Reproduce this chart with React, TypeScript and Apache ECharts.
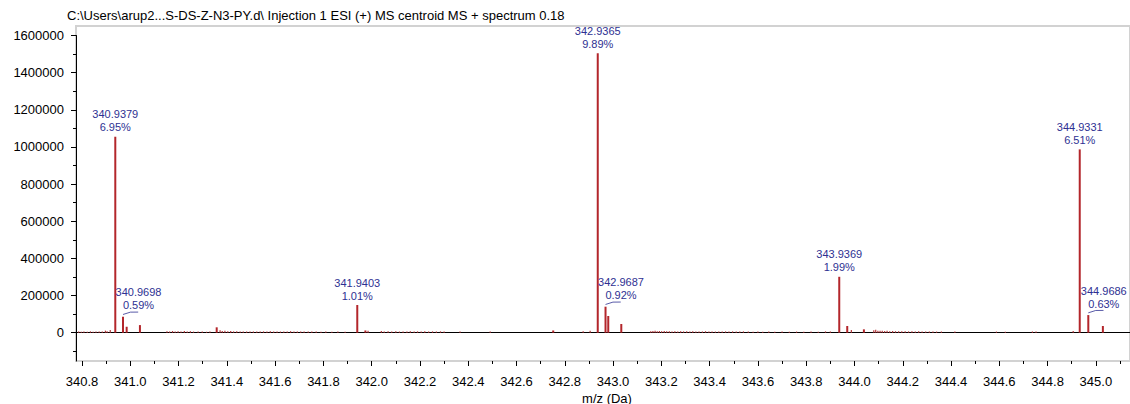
import React, { useEffect, useRef } from "react";
import * as echarts from "echarts";

// ---------- text ----------
const titleText =
  "C:\\Users\\arup2...S-DS-Z-N3-PY.d\\ Injection 1 ESI (+) MS centroid MS + spectrum 0.18";
const xAxisTitle = "m/z (Da)";

// ---------- axis ticks ----------
const xTickMin = 340.8;
const xTickMax = 345.0;
const xTickStep = 0.2;
const xMinorMax = 345.1;
const xMinorStep = 0.1;
const yTickMin = 0;
const yTickMax = 1600000;
const yTickStep = 200000;
const yMinorMin = -100000;
const yMinorStep = 100000;

// ---------- labelled peaks ----------
const labeledMz = [340.9379, 340.9698, 341.9403, 342.9365, 342.9687, 343.9369, 344.9331, 344.9686];
const labeledIntensity = [1055000, 86000, 149000, 1504000, 140000, 301000, 987000, 95000];
const labeledPercent = ["6.95%", "0.59%", "1.01%", "9.89%", "0.92%", "1.99%", "6.51%", "0.63%"];
const labelBesidePeak = [false, true, false, false, true, false, false, true];

// ---------- unlabelled isotope / satellite peaks ----------
const satelliteMz = [340.985, 341.04, 341.358, 341.974, 342.752, 342.98, 343.034, 343.97, 344.039, 345.029];
const satelliteIntensity = [32000, 41000, 29000, 12000, 12000, 90000, 47000, 36000, 18000, 36000];

// ---------- baseline noise ----------
const noiseMz = [
  340.786, 340.797, 340.808, 340.822, 340.835, 340.846, 340.858, 340.871, 340.884, 340.897, 340.904, 340.917,
  341.152, 341.163, 341.175, 341.186, 341.198, 341.21, 341.224, 341.236, 341.249, 341.262, 341.281, 341.298,
  341.316, 341.33, 341.372, 341.381, 341.392, 341.404, 341.416, 341.428, 341.441, 341.455, 341.468, 341.482,
  341.496, 341.51, 341.524, 341.538, 341.552, 341.566, 341.58, 341.594, 341.608, 341.622, 341.636, 341.65,
  341.664, 341.678, 341.692, 341.706, 341.72, 341.737, 341.752, 341.77, 341.79, 341.81, 341.835, 341.86,
  341.89, 341.985, 342.04, 342.052, 342.068, 342.083, 342.1, 342.115, 342.13, 342.146, 342.16, 342.176,
  342.19, 342.205, 342.22, 342.236, 342.252, 342.268, 342.285, 342.3, 342.366, 342.491, 342.876, 342.905,
  343.156, 343.165, 343.174, 343.183, 343.192, 343.201, 343.212, 343.222, 343.233, 343.244, 343.256, 343.268,
  343.28, 343.292, 343.305, 343.318, 343.33, 343.343, 343.356, 343.37, 343.383, 343.397, 343.41, 343.424,
  343.438, 343.452, 343.466, 343.48, 343.495, 343.51, 343.525, 343.54, 343.56, 343.58, 343.6, 343.62,
  343.645, 343.67, 343.7, 343.73, 343.76, 343.79, 343.82, 343.85, 343.88, 343.9, 343.987, 344.08,
  344.088, 344.097, 344.106, 344.115, 344.125, 344.135, 344.146, 344.158, 344.17, 344.183, 344.196, 344.21,
  344.224, 344.238, 344.252, 344.266, 344.28, 344.295, 344.31, 344.325, 344.34, 344.36, 344.416, 344.588,
  344.625, 344.737, 344.752, 344.906,
];
const noiseIntensity = [
  6000, 5000, 6000, 5000, 7000, 5000, 6000, 7000, 6000, 11000, 8000, 14000,
  8000, 6000, 9000, 7000, 8000, 6000, 9000, 6000, 8000, 6000, 7000, 6000,
  5000, 6000, 13000, 9000, 10000, 8000, 9000, 7000, 8000, 6000, 7000, 6000,
  7000, 6000, 7000, 6000, 7000, 6000, 8000, 6000, 7000, 6000, 7000, 6000,
  8000, 6000, 7000, 6000, 6000, 7000, 6000, 6000, 5000, 6000, 5000, 6000,
  5000, 11000, 9000, 7000, 8000, 6000, 8000, 6000, 7000, 6000, 8000, 6000,
  7000, 6000, 8000, 6000, 7000, 6000, 7000, 6000, 6000, 6000, 8000, 11000,
  8000, 9000, 10000, 8000, 9000, 8000, 9000, 8000, 8000, 7000, 8000, 7000,
  8000, 7000, 8000, 7000, 8000, 6000, 7000, 6000, 8000, 6000, 7000, 6000,
  7000, 6000, 7000, 6000, 7000, 6000, 6000, 7000, 6000, 5000, 6000, 5000,
  6000, 5000, 6000, 5000, 6000, 5000, 6000, 5000, 7000, 6000, 14000, 13000,
  16000, 11000, 10000, 11000, 9000, 10000, 8000, 9000, 8000, 8000, 8000, 8000,
  7000, 8000, 7000, 8000, 7000, 7000, 6000, 7000, 6000, 6000, 6000, 6000,
  5000, 6000, 6000, 9000,
];

// ---------- layout (pixels) ----------
const W = 1130;
const H = 404;
const FRAME_LEFT = 76;
const FRAME_TOP = 26;
const FRAME_BOTTOM = 361;
const X_TICK0_PX = 82; // pixel of xTickMin
const PX_PER_MZ = 241.4;
const Y_ZERO_PX = 332.7;
const Y_TOP_TICK_PX = 35.5;

const FONT = "'Liberation Sans', Arial, sans-serif";
const RED = "#b3262b";
const NOISE_RED = "#b3363a";
const BLUE = "#2e3192";

export default function App() {
  const ref = useRef<HTMLDivElement>(null);

  useEffect(() => {
    if (!ref.current) return;
    const chart = echarts.init(ref.current, undefined, { renderer: "svg" });

    const pxPerInt = (Y_ZERO_PX - Y_TOP_TICK_PX) / (yTickMax - yTickMin);
    const xMin = xTickMin - (X_TICK0_PX - FRAME_LEFT) / PX_PER_MZ;
    const xMax = xTickMin + (W - X_TICK0_PX) / PX_PER_MZ;
    const yMax = yTickMax + (Y_TOP_TICK_PX - FRAME_TOP) / pxPerInt;
    const yMin = -(FRAME_BOTTOM - Y_ZERO_PX) / pxPerInt;

    const frameH = FRAME_BOTTOM - FRAME_TOP;
    const majorYH = Y_ZERO_PX - Y_TOP_TICK_PX;
    const minorYH = majorYH * (yTickMax - yMinorMin) / (yTickMax - yTickMin);

    const peakData = labeledMz.map((mz, i) => ({
      value: [mz, labeledIntensity[i]],
      label: {
        show: true,
        formatter: mz.toFixed(4) + "\n" + labeledPercent[i],
        offset: labelBesidePeak[i] ? [15.5, -2] : [0, 0],
      },
    }));
    const satData = satelliteMz.map((mz, i) => [mz, satelliteIntensity[i]]);
    const noiseData = noiseMz.map((mz, i) => [mz, noiseIntensity[i]]);
    const leaderData = labeledMz
      .map((mz, i) => ({ mz, i }))
      .filter((d) => labelBesidePeak[d.i])
      .map((d) => ({
        coords: [
          [d.mz, labeledIntensity[d.i] + 12000],
          [d.mz + 0.063, labeledIntensity[d.i] + 25000],
        ],
      }));

    const hiddenX = (g: number) => ({ gridIndex: g, type: "value", show: false, min: 0, max: 1 });
    const hiddenY = (g: number) => ({ gridIndex: g, type: "value", show: false, min: 0, max: 1 });
    const black = { color: "#000", width: 1 };

    chart.setOption({
      animation: false,
      backgroundColor: "#ffffff",
      title: {
        text: titleText,
        left: 67,
        top: 9,
        padding: 0,
        textStyle: { fontFamily: FONT, fontSize: 13, fontWeight: "normal", color: "#000" },
      },
      graphic: [
        {
          type: "text",
          x: 607,
          y: 398,
          style: {
            text: xAxisTitle,
            font: "13px " + FONT,
            fill: "#000",
            align: "center",
            verticalAlign: "middle",
          },
        },
      ],
      grid: [
        {
          left: FRAME_LEFT,
          top: FRAME_TOP,
          width: W - FRAME_LEFT,
          height: frameH,
          show: true,
          borderColor: "#d2d2d2",
          borderWidth: 2,
          backgroundColor: "#ffffff",
        },
        { left: X_TICK0_PX, top: FRAME_TOP, width: (xTickMax - xTickMin) * PX_PER_MZ, height: frameH },
        { left: X_TICK0_PX, top: FRAME_TOP, width: (xMinorMax - xTickMin) * PX_PER_MZ, height: frameH },
        { left: FRAME_LEFT, top: Y_TOP_TICK_PX, width: 100, height: majorYH },
        { left: FRAME_LEFT, top: Y_TOP_TICK_PX, width: 100, height: minorYH },
        { left: FRAME_LEFT, top: Y_TOP_TICK_PX, width: 100, height: FRAME_BOTTOM - Y_TOP_TICK_PX },
      ],
      xAxis: [
        {
          gridIndex: 0,
          type: "value",
          min: xMin,
          max: xMax,
          position: "bottom",
          offset: 6,
          axisLine: { show: true, lineStyle: black },
          axisTick: { show: false },
          axisLabel: { show: false },
          splitLine: { show: false },
        },
        { gridIndex: 0, type: "value", min: xMin, max: xMax, position: "top", show: false },
        {
          gridIndex: 1,
          type: "value",
          min: xTickMin,
          max: xTickMax,
          interval: xTickStep,
          position: "bottom",
          offset: 6,
          axisLine: { show: false },
          axisTick: { show: true, length: 5, lineStyle: black },
          axisLabel: {
            show: true,
            margin: 8,
            fontSize: 13,
            fontFamily: FONT,
            color: "#000",
            formatter: (v: number) => v.toFixed(1),
          },
          splitLine: { show: false },
        },
        {
          gridIndex: 2,
          type: "value",
          min: xTickMin,
          max: xMinorMax,
          interval: xMinorStep,
          position: "bottom",
          offset: 6,
          axisLine: { show: false },
          axisTick: { show: true, length: 3, lineStyle: black },
          axisLabel: { show: false },
          splitLine: { show: false },
        },
        hiddenX(3),
        hiddenX(4),
        hiddenX(5),
      ],
      yAxis: [
        { gridIndex: 0, type: "value", min: yMin, max: yMax, show: false },
        hiddenY(1),
        hiddenY(2),
        {
          gridIndex: 3,
          type: "value",
          min: yTickMin,
          max: yTickMax,
          interval: yTickStep,
          position: "left",
          offset: 4,
          axisLine: { show: false },
          axisTick: { show: true, length: 5, lineStyle: black },
          axisLabel: {
            show: true,
            margin: 8,
            fontSize: 13,
            fontFamily: FONT,
            color: "#000",
            formatter: (v: number) => String(Math.round(v)),
          },
          splitLine: { show: false },
        },
        {
          gridIndex: 4,
          type: "value",
          min: yMinorMin,
          max: yTickMax,
          interval: yMinorStep,
          position: "left",
          offset: 4,
          axisLine: { show: false },
          axisTick: { show: true, length: 3, lineStyle: black },
          axisLabel: { show: false },
          splitLine: { show: false },
        },
        {
          gridIndex: 5,
          type: "value",
          min: 0,
          max: 1,
          position: "left",
          offset: 4,
          axisLine: { show: true, lineStyle: black },
          axisTick: { show: false },
          axisLabel: { show: false },
          splitLine: { show: false },
        },
      ],
      series: [
        {
          type: "bar",
          name: "noise",
          xAxisIndex: 1,
          yAxisIndex: 0,
          barWidth: 1.2,
          itemStyle: { color: NOISE_RED },
          data: noiseData,
          silent: true,
        },
        {
          type: "bar",
          name: "satellites",
          xAxisIndex: 0,
          yAxisIndex: 0,
          barWidth: 2,
          barGap: "-100%",
          itemStyle: { color: RED },
          data: satData,
          silent: true,
        },
        {
          type: "bar",
          name: "peaks",
          xAxisIndex: 0,
          yAxisIndex: 0,
          barWidth: 2,
          barGap: "-100%",
          itemStyle: { color: RED },
          label: {
            position: "top",
            distance: 3,
            color: BLUE,
            fontSize: 11,
            lineHeight: 13,
            fontFamily: FONT,
            align: "center",
          },
          data: peakData,
          silent: true,
        },
        {
          type: "lines",
          coordinateSystem: "cartesian2d",
          xAxisIndex: 0,
          yAxisIndex: 0,
          polyline: false,
          silent: true,
          lineStyle: { color: BLUE, width: 0.8, curveness: 0.15, opacity: 1 },
          data: leaderData,
        },
      ],
    });

    return () => chart.dispose();
  }, []);

  return (
    <div
      ref={ref}
      style={{ position: "absolute", left: 0, top: 0, width: W, height: H, background: "#fff" }}
    />
  );
}
